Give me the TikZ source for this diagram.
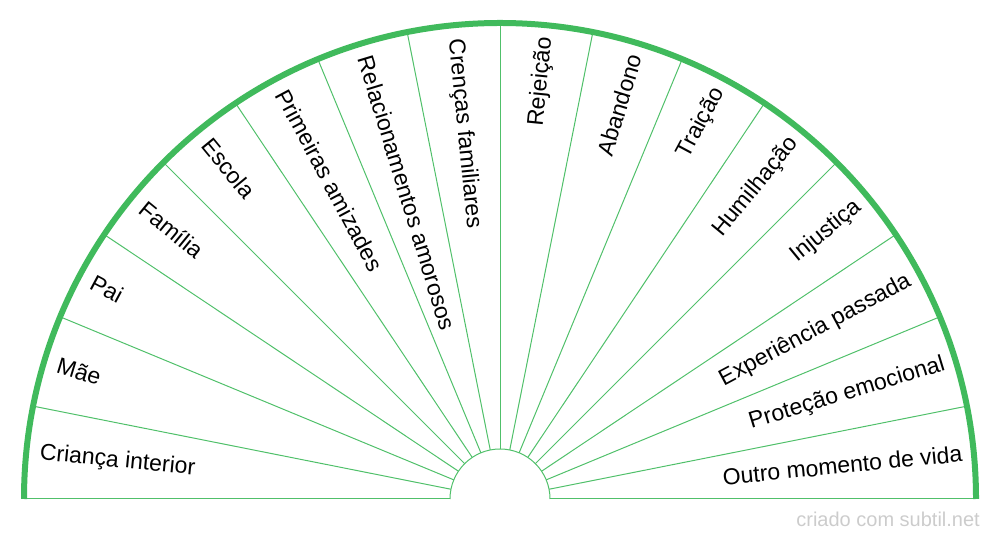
\documentclass[tikz,border=0pt]{standalone}
\usepackage{fontspec}
\setmainfont{Liberation Sans}
\definecolor{arcgreen}{RGB}{64,186,92}
\definecolor{linegreen}{RGB}{80,192,106}
\definecolor{wmgray}{RGB}{204,204,204}
\tikzset{
  rim/.style={draw=arcgreen, line width=6pt},
  spoke/.style={draw=linegreen, line width=1pt},
  leftlabel/.style={anchor=west, inner sep=0pt, font=\fontsize{23}{27}\selectfont},
  rightlabel/.style={anchor=east, inner sep=0pt, font=\fontsize{23}{27}\selectfont},
  watermark/.style={text=wmgray, inner sep=0pt, anchor=east, font=\fontsize{20}{24}\selectfont}
}
\begin{document}
\begin{tikzpicture}[x=1pt,y=1pt]
\useasboundingbox (0,0) rectangle (1000,540);
\begin{scope}[shift={(500,41)}]
  % spokes
  \foreach \k in {1,...,15} {
    \draw[spoke] ({\k*11.25}:50) -- ({\k*11.25}:476);
  }
  % base lines
  \draw[spoke] (180:476) -- (180:50);
  \draw[spoke] (0:50) -- (0:476);
  % inner semicircle
  \draw[spoke] (0:50) arc[start angle=0, end angle=180, radius=50];
  % outer rim
  \draw[rim] (0:476) arc[start angle=0, end angle=180, radius=476];
  % left labels
  \foreach \i/\t in {0/Criança interior,1/Mãe,2/Pai,3/Família,4/Escola,5/Primeiras amizades,6/Relacionamentos amorosos,7/Crenças familiares} {
    \pgfmathsetmacro{\a}{180-(\i+0.5)*11.25}
    \node[leftlabel, rotate=\a-180] (L\i) at (\a:462.5) {\t};
  }
  % right labels
  \foreach \i/\t in {8/Rejeição,9/Abandono,10/Traição,11/Humilhação,12/Injustiça,13/Experiência passada,14/Proteção emocional,15/Outro momento de vida} {
    \pgfmathsetmacro{\a}{180-(\i+0.5)*11.25}
    \node[rightlabel, rotate=\a] (R\i) at (\a:464.5) {\t};
  }
\end{scope}
\node[watermark] (wm) at (980,21) {criado com subtil.net};
\end{tikzpicture}
\end{document}
